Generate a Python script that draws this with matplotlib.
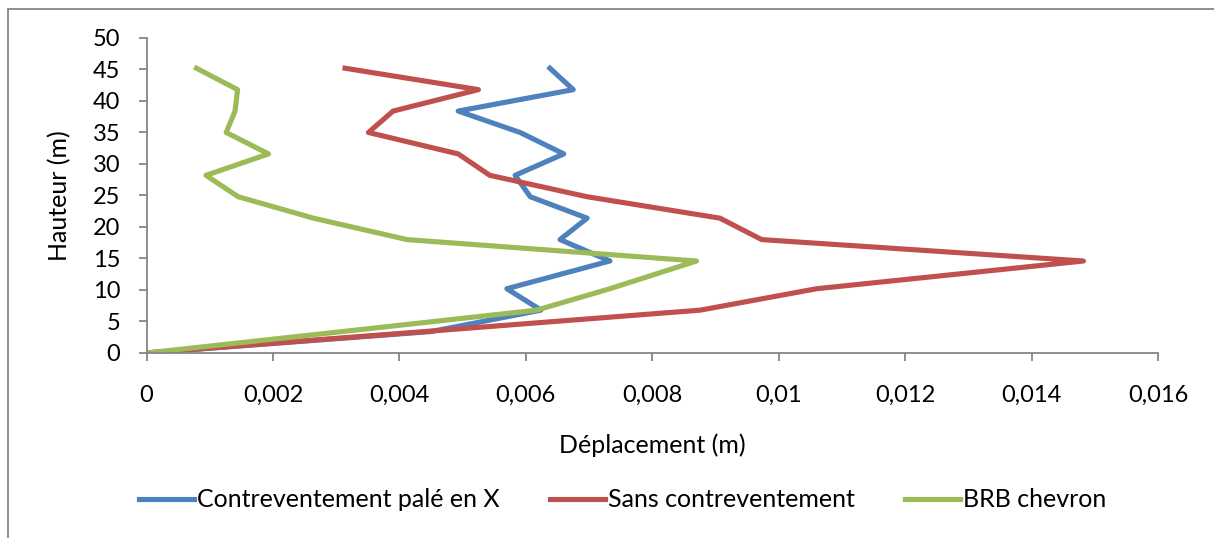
import matplotlib
matplotlib.use("Agg")
import matplotlib.pyplot as plt
from matplotlib.patches import Rectangle

plt.rcParams['font.family'] = ['Lato', 'DejaVu Sans']

# hauteurs des niveaux (m)
hauteur = [0, 3.4, 6.8, 10.2, 14.6, 18, 21.4, 24.8, 28.2, 31.6, 35, 38.4, 41.8, 45.2]

# déplacements (m)
dep_x = [0, 0.0045, 0.00624, 0.0057, 0.00733, 0.00654, 0.00697, 0.00607,
         0.00583, 0.0066, 0.00591, 0.00493, 0.00675, 0.00638]
dep_sans = [0, 0.0044, 0.00876, 0.0106, 0.01482, 0.00973, 0.00907, 0.00697,
            0.00543, 0.00493, 0.00351, 0.0039, 0.00525, 0.00314]
dep_brb = [0, 0.0031, 0.00617, 0.00733, 0.0087, 0.00412, 0.00264, 0.00145,
           0.00094, 0.00193, 0.00126, 0.0014, 0.00144, 0.00079]

xticks = [0, 0.002, 0.004, 0.006, 0.008, 0.01, 0.012, 0.014, 0.016]
xlabels = ['0', '0,002', '0,004', '0,006', '0,008', '0,01', '0,012', '0,014', '0,016']
yticks = list(range(0, 55, 5))

fig = plt.figure(figsize=(12.14, 5.38), dpi=100)
ax = fig.add_axes([0.1207, 0.3439, 0.8332, 0.5855])

ax.plot(dep_x, hauteur, color='#4F81BD', lw=3.7, label='Contreventement palé en X')
ax.plot(dep_sans, hauteur, color='#C0504D', lw=3.7, label='Sans contreventement')
ax.plot(dep_brb, hauteur, color='#9BBB59', lw=3.7, label='BRB chevron')

ax.set_xlim(0, 0.016)
ax.set_ylim(0, 50)
ax.set_xticks(xticks)
ax.set_xticklabels(xlabels)
ax.set_yticks(yticks)

for s in ['top', 'right']:
    ax.spines[s].set_visible(False)
for s in ['left', 'bottom']:
    ax.spines[s].set_color('#868686')
    ax.spines[s].set_linewidth(1.3)
ax.tick_params(axis='both', colors='#868686', labelcolor='black', labelsize=17,
               length=6, width=1.3)
ax.tick_params(axis='x', pad=17)
ax.tick_params(axis='y', pad=13)

ax.set_xlabel('Déplacement (m)', fontsize=18, labelpad=20)
ax.set_ylabel('Hauteur (m)', fontsize=18, labelpad=15)

fig.legend(loc='center', bbox_to_anchor=(0.513, 0.071), ncol=3, frameon=False,
           fontsize=18, handlelength=2.2, handletextpad=0.12, columnspacing=2.0)

fig.patches.append(Rectangle((8 / 1214, -0.05), 1.2, 1 - 9 / 538 + 0.05,
                             transform=fig.transFigure, fill=False,
                             edgecolor='#868686', lw=1.3))

fig.savefig('out.png', dpi=100)
